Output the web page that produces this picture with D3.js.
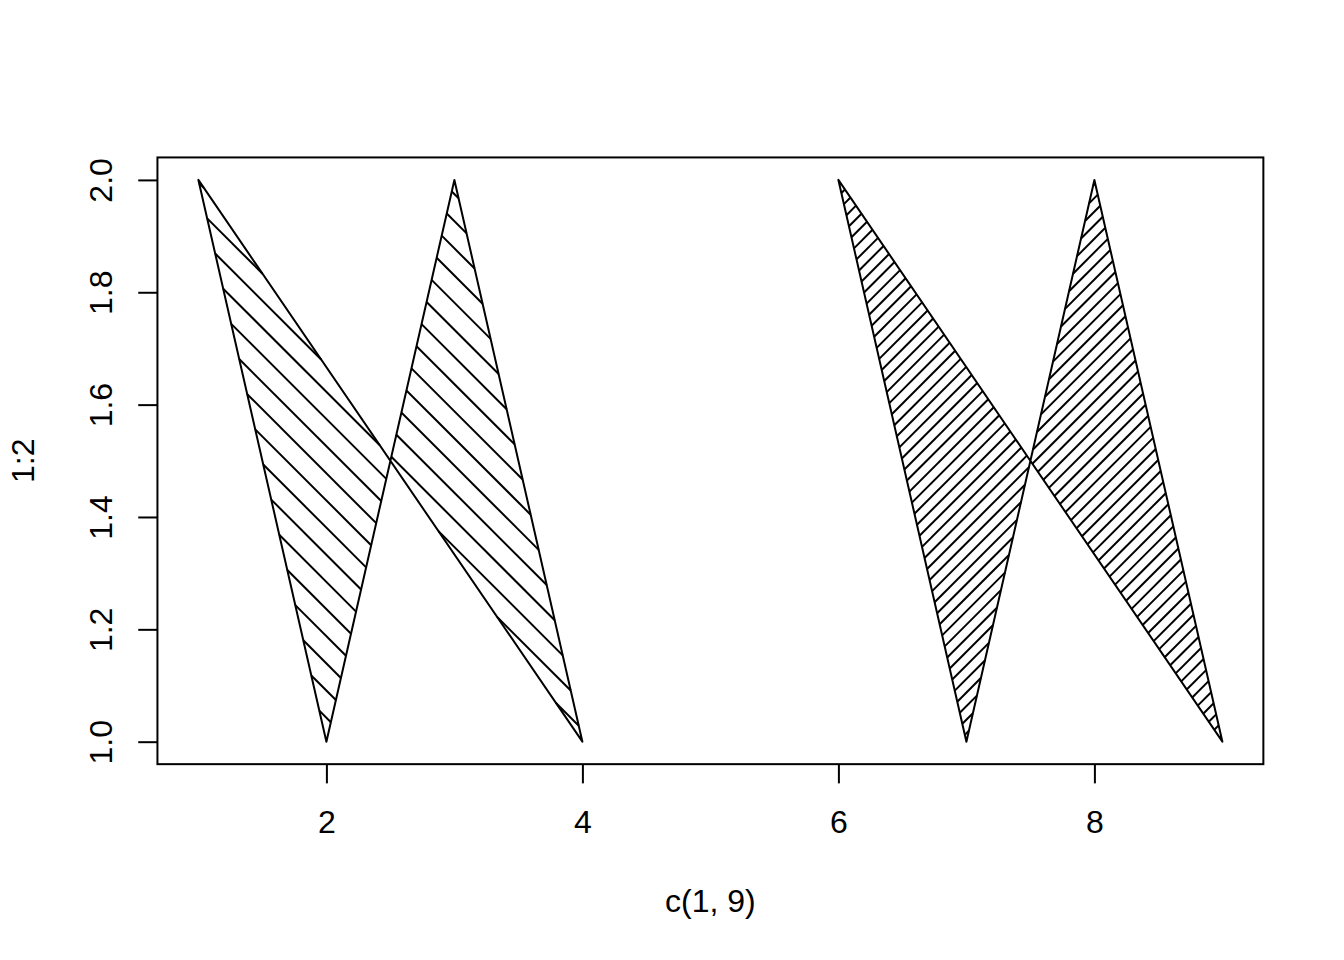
<!DOCTYPE html>
<html>
<head>
<meta charset="utf-8">
<script src="https://cdn.jsdelivr.net/npm/d3@7"></script>
<style>
  body { margin: 0; background: #fff; }
  svg text { font-family: "Liberation Sans", Arial, Helvetica, sans-serif; font-size: 32px; fill: #000; }
</style>
</head>
<body>
<div id="chart"></div>
<script>
// data: polygon vertices (null splits polygons), hatch density / angle per polygon
let polyX = [1, 2, 3, 4, 5, 6, 7, 8, 9];
let polyY = [2, 1, 2, 1, null, 2, 1, 2, 1];
let hatchDensity = [10, 20];
let hatchAngle = [-45, 45];
let xTicks = [2, 4, 6, 8];
let yTicks = [1.0, 1.2, 1.4, 1.6, 1.8, 2.0];
let xLimits = [1, 9];
let yLimits = [1, 2];
let xLabel = "c(1, 9)";
let yLabel = "1:2";

let width = 1344, height = 960;
let ppi = 192;               // device resolution
let lineH = 38.4;            // one margin line in px
let margin = {top: 4.1 * lineH, right: 2.1 * lineH, bottom: 5.1 * lineH, left: 4.1 * lineH};
let plotW = width - margin.left - margin.right;
let plotH = height - margin.top - margin.bottom;

// R style 4% extension of the axis ranges
function extendRange(r) {
  let d = (r[1] - r[0]) * 0.04;
  return [r[0] - d, r[1] + d];
}
let usrX = extendRange(xLimits), usrY = extendRange(yLimits);

let x = d3.scaleLinear().domain(usrX).range([margin.left, margin.left + plotW]);
let y = d3.scaleLinear().domain(usrY).range([margin.top + plotH, margin.top]);

let svg = d3.select("#chart").append("svg")
  .attr("width", width)
  .attr("height", height);

// split the vertex lists at the NA entries
let polys = [];
let cur = [];
polyX.forEach(function(v, i) {
  if (polyY[i] == null || v == null) {
    if (cur.length) polys.push(cur);
    cur = [];
  } else {
    cur.push([v, polyY[i]]);
  }
});
if (cur.length) polys.push(cur);

// hatch lines, same way as graphics::polygon does it
function oneHatch(px, py, x0, y0, xd, yd, out) {
  let half = px.map(function(xi, i) { return (xd * (py[i] - y0) - yd * (xi - x0) <= 0) ? 1 : 0; });
  let hits = [];
  for (let i = 0; i < px.length - 1; i++) {
    let c = half[i + 1] - half[i];
    if (c == 0) continue;
    let x1 = px[i], y1 = py[i], x2 = px[i + 1], y2 = py[i + 1];
    let t = ((x1 - x0) * (y2 - y1) - (y1 - y0) * (x2 - x1)) / (xd * (y2 - y1) - yd * (x2 - x1));
    hits.push({t: t, c: c});
  }
  if (!hits.length) return;
  hits.sort(function(a, b) { return a.t - b.t; });
  let sum = 0;
  for (let j = 0; j < hits.length - 1; j++) {
    sum += hits[j].c;
    if (sum != 0) {
      out.push([[x0 + xd * hits[j].t, y0 + yd * hits[j].t],
                [x0 + xd * hits[j + 1].t, y0 + yd * hits[j + 1].t]]);
    }
  }
}

function fullHatch(pts, density, angle) {
  let px = pts.map(function(p) { return p[0]; });
  let py = pts.map(function(p) { return p[1]; });
  px.push(px[0]); py.push(py[0]);
  angle = ((angle % 180) + 180) % 180;
  let upi = [(usrX[1] - usrX[0]) / (plotW / ppi), (usrY[1] - usrY[0]) / (plotH / ppi)];
  let xd = Math.cos(angle / 180 * Math.PI) * upi[0];
  let yd = Math.sin(angle / 180 * Math.PI) * upi[1];
  let out = [];
  if (angle < 45 || angle > 135) {
    let firstX = angle < 45 ? d3.max(px) : d3.min(px);
    let lastX = angle < 45 ? d3.min(px) : d3.max(px);
    let yShift = upi[1] / density / Math.abs(Math.cos(angle / 180 * Math.PI));
    let y0 = Math.floor((d3.min(py) - firstX * yd / xd) / yShift) * yShift;
    let yEnd = d3.max(py) - lastX * yd / xd;
    while (y0 < yEnd) { oneHatch(px, py, 0, y0, xd, yd, out); y0 += yShift; }
  } else {
    let firstY = angle < 90 ? d3.max(py) : d3.min(py);
    let lastY = angle < 90 ? d3.min(py) : d3.max(py);
    let xShift = upi[0] / density / Math.abs(Math.sin(angle / 180 * Math.PI));
    let x0 = Math.floor((d3.min(px) - firstY * xd / yd) / xShift) * xShift;
    let xEnd = d3.max(px) - lastY * xd / yd;
    while (x0 < xEnd) { oneHatch(px, py, x0, 0, xd, yd, out); x0 += xShift; }
  }
  return out;
}

let g = svg.append("g");
let line = d3.line().x(function(d) { return x(d[0]); }).y(function(d) { return y(d[1]); });

polys.forEach(function(pts, i) {
  let segs = fullHatch(pts, hatchDensity[i % hatchDensity.length], hatchAngle[i % hatchAngle.length]);
  g.selectAll(".hatch-" + i)
    .data(segs).enter()
    .append("path")
    .attr("class", "hatch-" + i)
    .attr("d", line)
    .attr("fill", "none")
    .attr("stroke", "#000")
    .attr("stroke-width", 2);
  g.append("path")
    .datum(pts)
    .attr("d", line(pts) + "Z")
    .attr("fill", "none")
    .attr("stroke", "#000")
    .attr("stroke-width", 2)
    .attr("stroke-linejoin", "round");
});

// plot box
svg.append("rect")
  .attr("x", margin.left).attr("y", margin.top)
  .attr("width", plotW).attr("height", plotH)
  .attr("fill", "none").attr("stroke", "#000").attr("stroke-width", 2);

// axes
let xAxis = svg.append("g")
  .attr("transform", "translate(0," + (margin.top + plotH) + ")")
  .call(d3.axisBottom(x).tickValues(xTicks).tickSize(lineH / 2).tickFormat(d3.format("d")));
xAxis.select(".domain").remove();
xAxis.selectAll(".tick line").attr("stroke", "#000").attr("stroke-width", 2);
xAxis.selectAll(".tick text")
  .attr("y", 833 - (margin.top + plotH)).attr("dy", 0)
  .style("font-size", "32px").style("font-family", null);

let yAxis = svg.append("g")
  .attr("transform", "translate(" + margin.left + ",0)")
  .call(d3.axisLeft(y).tickValues(yTicks).tickSize(lineH / 2).tickFormat(d3.format(".1f")));
yAxis.select(".domain").remove();
yAxis.selectAll(".tick line").attr("stroke", "#000").attr("stroke-width", 2);
yAxis.selectAll(".tick text")
  .attr("transform", "rotate(-90)")
  .attr("x", 0).attr("y", 112 - margin.left).attr("dy", 0)
  .attr("text-anchor", "middle")
  .style("font-size", "32px").style("font-family", null);
svg.selectAll(".tick text").attr("fill", "#000");
svg.selectAll("g[font-family]").attr("font-family", null).attr("font-size", null);

// axis titles
svg.append("text")
  .attr("x", margin.left + plotW / 2).attr("y", 912)
  .attr("text-anchor", "middle")
  .text(xLabel);
svg.append("text")
  .attr("transform", "translate(34," + (margin.top + plotH / 2) + ") rotate(-90)")
  .attr("text-anchor", "middle")
  .text(yLabel);
</script>
</body>
</html>
